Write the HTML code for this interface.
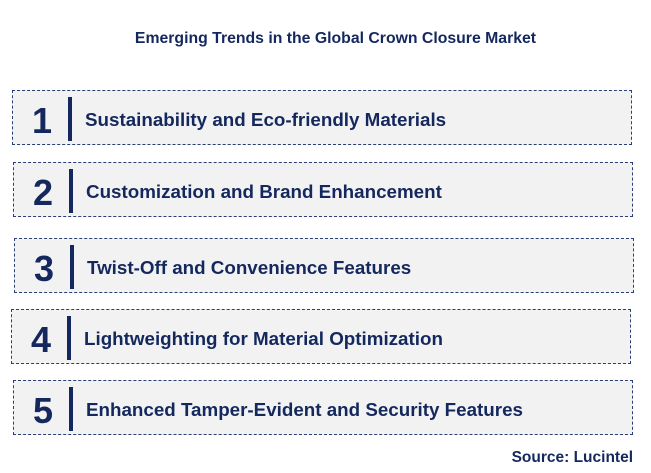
<!DOCTYPE html>
<html><head><style>
body{margin:0;width:651px;height:473px;background:#fff;font-family:"Liberation Sans",sans-serif;position:relative;overflow:hidden;color:#14285e}
.t{position:absolute;top:30px;left:0;width:671px;text-align:center;font-size:15.8px;font-weight:bold}
.b{position:absolute;width:618px;height:53px;border:1px dashed #2a3f78;background:#f2f2f2}
.n{position:absolute;left:12px;width:34px;top:8px;font-size:36px;font-weight:bold;text-align:center;line-height:44px}
.bar{position:absolute;left:55px;top:6px;width:4px;height:44px;background:#14285e}
.x{position:absolute;left:72px;top:18px;font-size:18.8px;font-weight:bold;white-space:nowrap}
.s{position:absolute;right:18px;top:449px;font-size:15.5px;font-weight:bold}
</style></head><body>
<div class="t">Emerging Trends in the Global Crown Closure Market</div>
<div class="b" style="left:12px;top:90px"><div class="n">1</div><div class="bar"></div><div class="x">Sustainability and Eco-friendly Materials</div></div>
<div class="b" style="left:13px;top:162px"><div class="n">2</div><div class="bar"></div><div class="x">Customization and Brand Enhancement</div></div>
<div class="b" style="left:14px;top:238px"><div class="n">3</div><div class="bar"></div><div class="x">Twist-Off and Convenience Features</div></div>
<div class="b" style="left:11px;top:309px"><div class="n">4</div><div class="bar"></div><div class="x">Lightweighting for Material Optimization</div></div>
<div class="b" style="left:13px;top:380px"><div class="n">5</div><div class="bar"></div><div class="x">Enhanced Tamper-Evident and Security Features</div></div>
<div class="s">Source: Lucintel</div>
</body></html>
